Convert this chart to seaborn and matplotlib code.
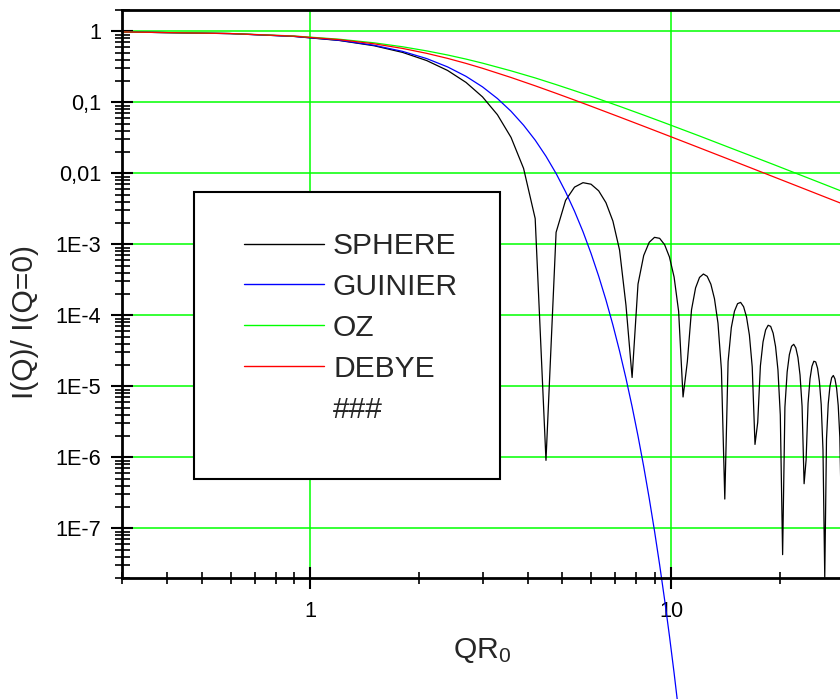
import numpy as np
import pandas as pd
import seaborn as sns
import matplotlib
matplotlib.use("Agg")
import matplotlib.pyplot as plt
from matplotlib.ticker import FixedLocator, FixedFormatter, LogLocator, NullFormatter
from matplotlib.lines import Line2D
from matplotlib.patches import Rectangle

# ---------------- data ----------------
sphere_x = [0.3, 0.6, 0.9, 1.2, 1.5, 1.8, 2.1, 2.4, 2.7, 3.0,
            3.3, 3.6, 3.9, 4.2, 4.5, 4.8, 5.1, 5.4, 5.7, 6.0,
            6.3, 6.6, 6.9, 7.2, 7.5, 7.8, 8.1, 8.4, 8.7, 9.0,
            9.3, 9.6, 9.9, 10.2, 10.5, 10.8, 11.1, 11.4, 11.7, 12.0,
            12.3, 12.6, 12.9, 13.2, 13.5, 13.8, 14.1, 14.4, 14.7, 15.0,
            15.3, 15.6, 15.9, 16.2, 16.5, 16.8, 17.1, 17.4, 17.7, 18.0,
            18.3, 18.6, 18.9, 19.2, 19.5, 19.8, 20.1, 20.4, 20.7, 21.0,
            21.3, 21.6, 21.9, 22.2, 22.5, 22.8, 23.1, 23.4, 23.7, 24.0,
            24.3, 24.6, 24.9, 25.2, 25.5, 25.8, 26.1, 26.4, 26.7, 27.0,
            27.3, 27.6, 27.9, 28.2, 28.5, 28.8, 29.1, 29.4, 29.7, 30.0]
sphere_y = [0.9821, 0.9302, 0.8488, 0.7451, 0.6278, 0.5060, 0.3882, 0.2816, 0.1911, 0.1195,
            0.06701, 0.03209, 0.01175, 0.002312, 9.08e-7, 0.001476, 0.004165, 0.006403, 0.007395, 0.007038,
            0.005681, 0.003868, 0.002127, 8.31e-4, 1.396e-4, 1.334e-5, 2.759e-4, 6.972e-4, 1.0688e-3, 1.2561e-3,
            1.2167e-3, 9.899e-4, 6.658e-4, 3.466e-4, 1.136e-4, 7.09e-6, 2.228e-5, 1.198e-4, 2.440e-4, 3.427e-4,
            3.824e-4, 3.548e-4, 2.748e-4, 1.717e-4, 7.767e-5, 1.709e-5, 2.588e-7, 2.237e-5, 6.735e-5, 1.1465e-4,
            1.4632e-4, 1.5230e-4, 1.3239e-4, 9.490e-5, 5.277e-5, 1.879e-5, 1.522e-6, 3.111e-6, 1.944e-5, 4.226e-5,
            6.233e-5, 7.256e-5, 6.998e-5, 5.622e-5, 3.640e-5, 1.709e-5, 3.951e-6, 4.268e-8, 5.097e-6, 1.598e-5,
            2.802e-5, 3.670e-5, 3.913e-5, 3.479e-5, 2.547e-5, 1.445e-5, 5.234e-6, 4.255e-7, 9.182e-7, 5.788e-6,
            1.277e-5, 1.912e-5, 2.259e-5, 2.210e-5, 1.799e-5, 1.178e-5, 5.572e-6, 1.279e-6, 2.04e-8, 1.817e-6,
            5.679e-6, 1.002e-5, 1.323e-5, 1.423e-5, 1.275e-5, 9.398e-6, 5.349e-6, 1.926e-6, 1.433e-7, 3.893e-7]

guinier_x = [0.3, 0.6, 0.9, 1.2, 1.5, 1.8, 2.1, 2.4, 2.7, 3.0,
             3.3, 3.6, 3.9, 4.2, 4.5, 4.8, 5.1, 5.4, 5.7, 6.0,
             6.3, 6.6, 6.9, 7.2, 7.5, 7.8, 8.1, 8.4, 8.7, 9.0,
             9.3, 9.6, 9.9, 10.2, 10.5, 10.8]
guinier_y = [0.9822, 0.9305, 0.8504, 0.7498, 0.6376, 0.5231, 0.4140, 0.3160, 0.2327, 0.1653,
             0.1133, 0.0749, 0.0477, 0.0294, 0.01742, 0.00997, 0.00550, 0.00293, 0.00151, 7.47e-4,
             3.57e-4, 1.65e-4, 7.32e-5, 3.14e-5, 1.30e-5, 5.19e-6, 2.00e-6, 7.43e-7, 2.66e-7, 9.20e-8,
             3.07e-8, 9.88e-9, 3.07e-9, 9.18e-10, 2.65e-10, 7.38e-11]

oz_x = [0.3, 0.6, 0.9, 1.2, 1.5, 1.8, 2.1, 2.4, 2.7, 3.0, 3.6, 4.2, 4.8, 5.4,
        6.0, 7.2, 8.4, 9.6, 10.8, 12.0, 14.4, 16.8, 19.2, 21.6, 24.0, 27.0, 30.0]
oz_y = [0.982, 0.933, 0.861, 0.776, 0.690, 0.607, 0.531, 0.465, 0.407, 0.357, 0.278, 0.221, 0.178, 0.146,
        0.122, 0.0880, 0.0662, 0.0515, 0.0411, 0.0336, 0.0235, 0.0174, 0.0134, 0.0106, 0.00861, 0.00681, 0.00552]

debye_x = [0.3, 0.6, 0.9, 1.2, 1.5, 1.8, 2.1, 2.4, 2.7, 3.0, 3.6, 4.2, 4.8, 5.4,
           6.0, 7.2, 8.4, 9.6, 10.8, 12.0, 14.4, 16.8, 19.2, 21.6, 24.0, 27.0, 30.0]
debye_y = [0.982, 0.932, 0.856, 0.765, 0.6685, 0.5753, 0.4905, 0.4166, 0.3540, 0.3021, 0.2241, 0.1711, 0.1342, 0.1078,
           0.0883, 0.0622, 0.0461, 0.0355, 0.02817, 0.02288, 0.01595, 0.01174, 0.00900, 0.00712, 0.00577, 0.00456, 0.003697]

series_names = ["SPHERE", "GUINIER", "OZ", "DEBYE"]
series_colors = ["#000000", "#0000FF", "#00FF00", "#FF0000"]
extra_legend_label = "###"

y_tick_values = [1, 0.1, 0.01, 1e-3, 1e-4, 1e-5, 1e-6, 1e-7]
y_tick_labels = ["1", "0,1", "0,01", "1E-3", "1E-4", "1E-5", "1E-6", "1E-7"]
x_tick_values = [1, 10]
x_tick_labels = ["1", "10"]
x_limits = (0.3, 30)
y_limits = (2e-8, 2)

# ---------------- table for seaborn ----------------
frames = []
for name, xs, ys in zip(series_names,
                        [sphere_x, guinier_x, oz_x, debye_x],
                        [sphere_y, guinier_y, oz_y, debye_y]):
    frames.append(pd.DataFrame({"x": xs, "y": ys, "series": name}))
df = pd.concat(frames, ignore_index=True)

# ---------------- style ----------------
sns.set_theme(style="white")
plt.rcParams["font.family"] = ["Liberation Sans", "DejaVu Sans"]
plt.rcParams["mathtext.fontset"] = "custom"
plt.rcParams["mathtext.rm"] = "Liberation Sans"
plt.rcParams["mathtext.it"] = "Liberation Sans:italic"

W, H = 840, 699
fig = plt.figure(figsize=(W / 100, H / 100), dpi=100)
fig.patch.set_facecolor("white")
ax = fig.add_axes([122 / W, (H - 578) / H, (843 - 122) / W, (578 - 10) / H])
ax.set_facecolor("white")
ax.set_xscale("log")
ax.set_yscale("log")

palette = dict(zip(series_names, series_colors))
sns.lineplot(data=df, x="x", y="y", hue="series", hue_order=series_names,
             palette=palette, estimator=None, sort=False, legend=False,
             linewidth=0.9, ax=ax)
for ln in ax.lines:
    ln.set_clip_on(False)

ax.set_xlim(*x_limits)
ax.set_ylim(*y_limits)

# grid
ax.grid(True, which="major", color="#00FF00", linewidth=1.1)
ax.set_axisbelow(True)

# ticks
ax.yaxis.set_major_locator(FixedLocator(y_tick_values))
ax.yaxis.set_major_formatter(FixedFormatter(y_tick_labels))
ax.yaxis.set_minor_locator(LogLocator(base=10, subs=np.arange(2, 10), numticks=40))
ax.yaxis.set_minor_formatter(NullFormatter())
ax.xaxis.set_major_locator(FixedLocator(x_tick_values))
ax.xaxis.set_major_formatter(FixedFormatter(x_tick_labels))
ax.xaxis.set_minor_locator(LogLocator(base=10, subs=np.arange(2, 10), numticks=40))
ax.xaxis.set_minor_formatter(NullFormatter())

ax.tick_params(which="both", left=True, bottom=True, top=False, right=False)
ax.tick_params(which="major", direction="inout", length=15.8, width=1.5,
               color="black", labelcolor="black", labelsize=15.6)
ax.tick_params(axis="y", which="major", pad=7.0)
ax.tick_params(axis="x", which="major", pad=8.5)
ax.tick_params(axis="y", which="minor", direction="inout", length=10.8, width=1.2, color="black")
ax.tick_params(axis="x", which="minor", direction="inout", length=8.6, width=1.2, color="black")

for side in ["left", "bottom", "top"]:
    ax.spines[side].set_visible(True)
    ax.spines[side].set_color("black")
    ax.spines[side].set_linewidth(2.0)
ax.spines["right"].set_visible(False)

ax.set_xlabel(r"QR$_{\mathrm{0}}$", fontsize=21.6, labelpad=10)
ax.set_ylabel("I(Q)/ I(Q=0)", fontsize=21.6)
ax.yaxis.set_label_coords((39 - 122) / 721, (578 - 322) / 568)

# legend frame + entries
frame = Rectangle((194 / W, 1 - 479 / H), 306 / W, 287 / H, transform=fig.transFigure,
                  facecolor="white", edgecolor="black", linewidth=1.5, zorder=3)
ax.add_patch(frame)
handles = [Line2D([0], [0], color=c, linewidth=1.0) for c in series_colors]
handles.append(Line2D([0], [0], color="none"))
labels = series_names + [extra_legend_label]
leg = ax.legend(handles, labels, loc="upper left", bbox_to_anchor=(244 / W, 1 - 232 / H),
                bbox_transform=fig.transFigure, frameon=False, fontsize=21.6,
                handlelength=80 / 30, handletextpad=9 / 30, labelspacing=0.433,
                borderpad=0, borderaxespad=0)
leg.set_zorder(5)

fig.savefig("out.png", dpi=100, facecolor="white")
